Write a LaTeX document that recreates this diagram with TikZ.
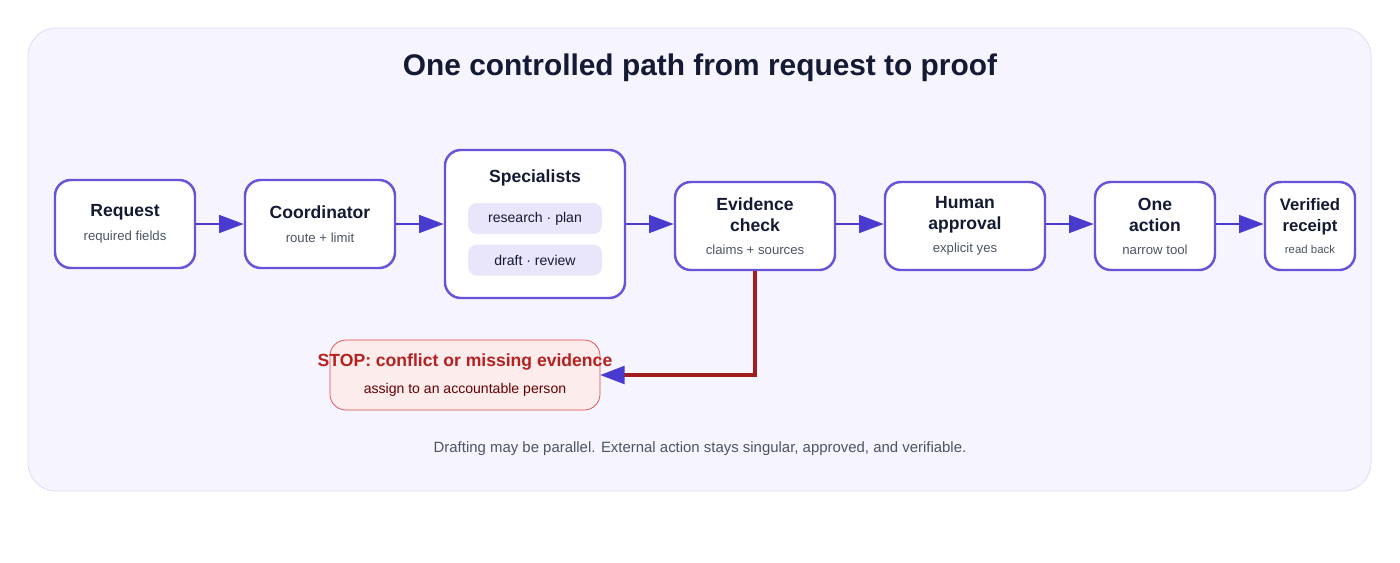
\documentclass[tikz,border=0pt]{standalone}
\usepackage{fontspec}
\setmainfont{Liberation Sans}
\usetikzlibrary{arrows.meta}
\definecolor{panel}{HTML}{F6F4FE}
\definecolor{panelline}{HTML}{DDD8F5}
\definecolor{boxline}{HTML}{6A52D6}
\definecolor{arrowblue}{HTML}{4A3BD0}
\definecolor{pill}{HTML}{E9E5FB}
\definecolor{stopfill}{HTML}{FDECEC}
\definecolor{stopline}{HTML}{E04848}
\definecolor{stopred}{HTML}{B52020}
\definecolor{ink}{HTML}{141A33}
\definecolor{subgray}{HTML}{4B5563}
\tikzset{
  box/.style={draw=boxline,line width=1.4pt,fill=white,rounded corners=9pt,align=center,text=ink},
  pil/.style={fill=pill,rounded corners=5pt,minimum width=134*0.02cm,minimum height=31*0.02cm,font=\fontsize{8}{10}\selectfont,text=ink},
  flow/.style={-{Triangle[length=14pt,width=10pt]},line width=1.6pt,draw=arrowblue}
}
\newcommand{\hd}[1]{{\fontsize{10}{13}\selectfont\bfseries #1}}
\newcommand{\subtxt}[1]{{\fontsize{7.5}{10}\selectfont\color{subgray}#1}}
\begin{document}
\begin{tikzpicture}[x=0.02cm,y=-0.02cm]
\useasboundingbox (0,0) rectangle (1400,562);
\draw[panelline,fill=panel,rounded corners=16pt] (28,28) rectangle (1371,491);
\node[text=ink,font=\fontsize{17}{20}\selectfont\bfseries] (title) at (700,68) {One controlled path from request to proof};

\node[box,minimum width=140*0.02cm,minimum height=88*0.02cm] (req) at (125,224) {\hd{Request}\\[2pt]\subtxt{required fields}};
\node[box,minimum width=150*0.02cm,minimum height=88*0.02cm] (coord) at (320,224) {\hd{Coordinator}\\[2pt]\subtxt{route + limit}};
\node[box,minimum width=180*0.02cm,minimum height=148*0.02cm] (spec) at (535,224) {};
\node[text=ink] (spect) at (535,178) {\hd{Specialists}};
\node[pil] (p1) at (535,218.5) {research · plan};
\node[pil] (p2) at (535,260) {draft · review};
\node[box,minimum width=160*0.02cm,minimum height=88*0.02cm] (evid) at (755,226) {\hd{Evidence}\\\hd{check}\\[1pt]\subtxt{claims + sources}};
\node[box,minimum width=160*0.02cm,minimum height=88*0.02cm] (human) at (965,226) {\hd{Human}\\\hd{approval}\\[1pt]\subtxt{explicit yes}};
\node[box,minimum width=120*0.02cm,minimum height=88*0.02cm] (act) at (1155,226) {\hd{One}\\\hd{action}\\[1pt]\subtxt{narrow tool}};
\node[box,minimum width=90*0.02cm,minimum height=88*0.02cm,inner sep=1pt] (rec) at (1310,226) {{\fontsize{9.5}{13}\selectfont\bfseries Verified}\\{\fontsize{9.5}{13}\selectfont\bfseries receipt}\\[1pt]{\fontsize{6.5}{9}\selectfont\color{subgray}read back}};

\draw[stopline,fill=stopfill,rounded corners=9pt] (330,340) rectangle (600,410);
\coordinate (stopin) at (600,375);
\node[align=center] (stop) at (465,375)
  {{\fontsize{10}{13}\selectfont\bfseries\color{stopred}STOP: conflict or missing evidence}\\[3pt]{\fontsize{8}{10}\selectfont\color{red!40!black}assign to an accountable person}};

\draw[flow] (req.east |- 0,224) -- (coord.west |- 0,224);
\draw[flow] (coord.east |- 0,224) -- (spec.west |- 0,224);
\draw[flow] (spec.east |- 0,224) -- (evid.west |- 0,224);
\draw[flow] (evid.east |- 0,224) -- (human.west |- 0,224);
\draw[flow] (human.east |- 0,224) -- (act.west |- 0,224);
\draw[flow] (act.east |- 0,224) -- (rec.west |- 0,224);
\draw[line width=2pt,draw=stopred!90!black,-{Triangle[length=14pt,width=10pt,color=arrowblue]}] (evid.south) |- (stopin);

\node[text=subgray,font=\fontsize{8.5}{11}\selectfont] (note) at (700,449) {Drafting may be parallel. External action stays singular, approved, and verifiable.};
\end{tikzpicture}
\end{document}
